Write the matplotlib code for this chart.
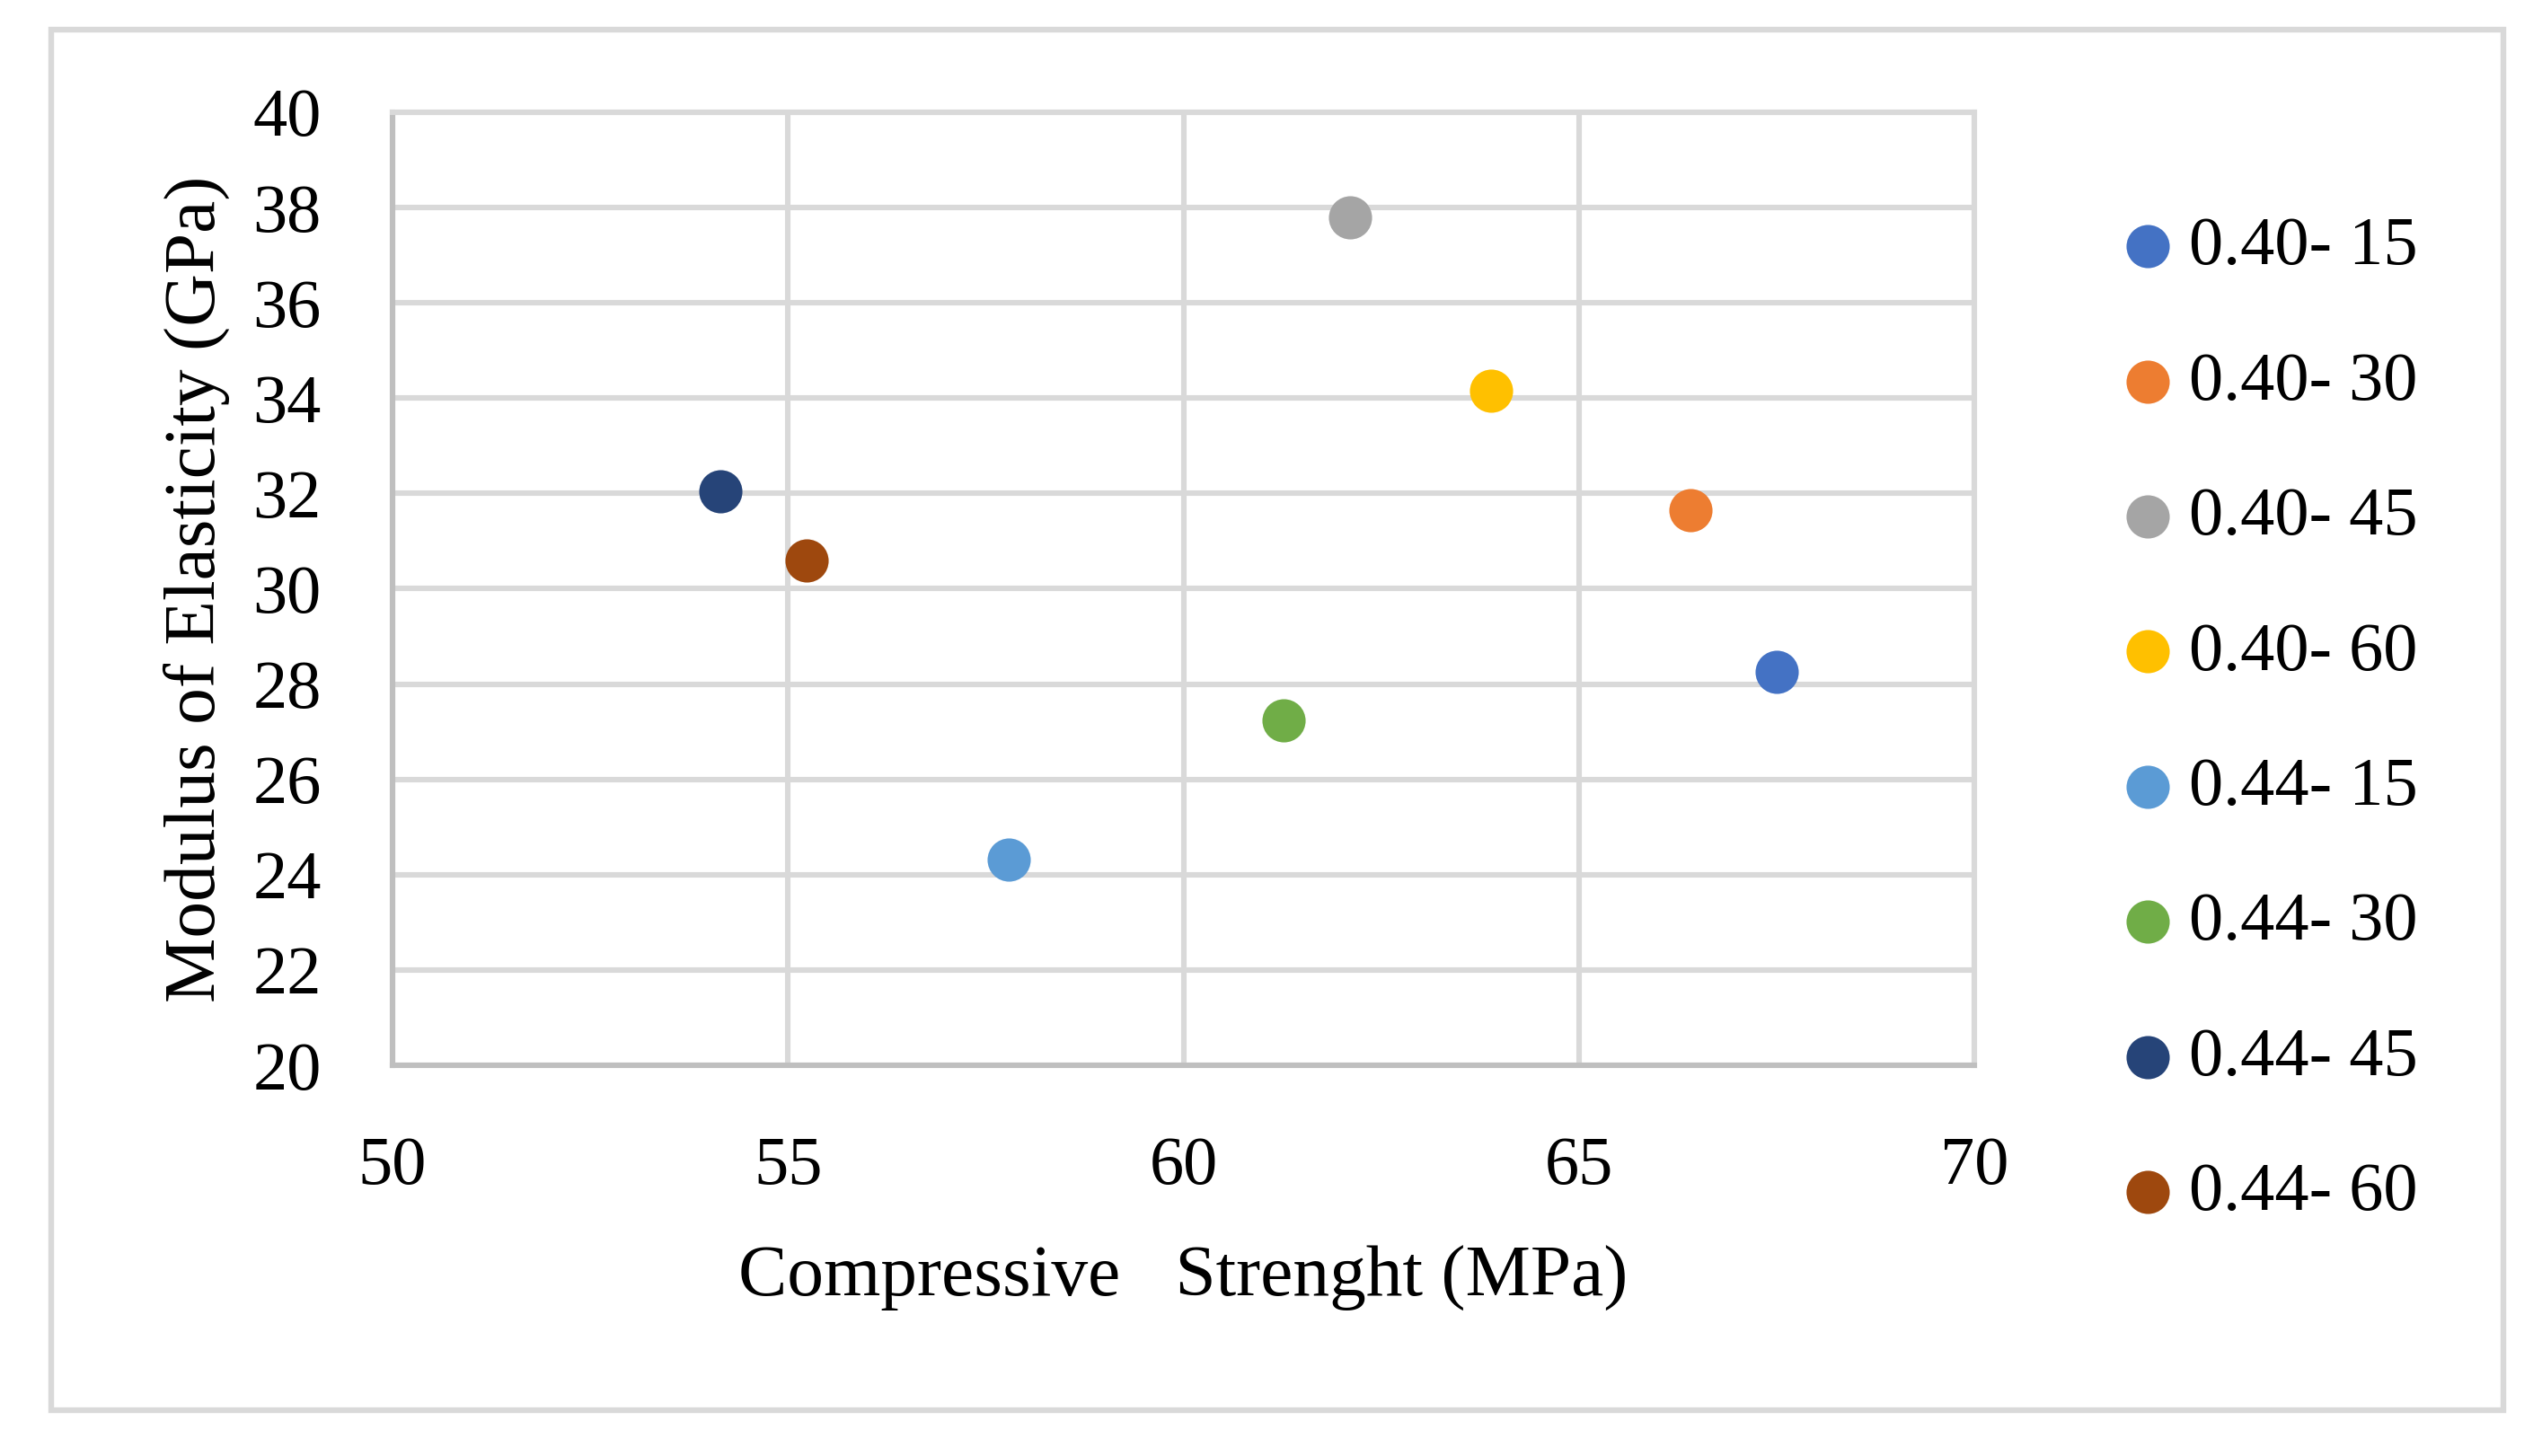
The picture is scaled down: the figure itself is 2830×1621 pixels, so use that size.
import matplotlib
matplotlib.use("Agg")
import matplotlib.pyplot as plt
from matplotlib.patches import Rectangle

labels = ["0.40- 15", "0.40- 30", "0.40- 45", "0.40- 60",
          "0.44- 15", "0.44- 30", "0.44- 45", "0.44- 60"]
strength = [67.5, 66.41, 62.11, 63.89, 57.79, 61.27, 54.14, 55.23]
modulus = [28.25, 31.65, 37.79, 34.16, 24.31, 27.23, 32.05, 30.59]
colors = ["#4472C4", "#ED7D31", "#A5A5A5", "#FFC000",
          "#5B9BD5", "#70AD47", "#264478", "#9E480E"]

plt.rcParams['font.family'] = ['Liberation Serif', 'DejaVu Serif']
fs = 27.5

W, H = 2830, 1621
fig = plt.figure(figsize=(W / 200, H / 200), dpi=200)

# outer chart frame
fig.patches.append(Rectangle((57 / W, 1 - 1570 / H), (2787 - 57) / W, (1570 - 33) / H,
                             transform=fig.transFigure, fill=False,
                             edgecolor="#d9d9d9", linewidth=2.3))

ax = fig.add_axes([437 / W, 1 - 1186 / H, (2198 - 437) / W, (1186 - 125) / H])

for x, y, c, lab in zip(strength, modulus, colors, labels):
    ax.scatter(x, y, s=300, color=c, label=lab, zorder=3, linewidths=0)

ax.set_xlim(50, 70)
ax.set_ylim(20, 40)
ax.set_xticks(range(50, 71, 5))
ax.set_yticks(range(20, 41, 2))
ax.grid(True, color="#d9d9d9", linewidth=2.2)
ax.set_axisbelow(True)
for side in ["top", "right"]:
    ax.spines[side].set_color("#d9d9d9")
    ax.spines[side].set_linewidth(2.2)
for side in ["left", "bottom"]:
    ax.spines[side].set_color("#bfbfbf")
    ax.spines[side].set_linewidth(2.2)
ax.tick_params(length=0, labelsize=fs, pad=28.5)

ax.set_xlabel("Compressive   Strenght (MPa)", fontsize=29.3, labelpad=19)
ax.set_ylabel("Modulus of Elasticity (GPa)", fontsize=29.3, labelpad=9)

fig.legend(loc="center left", bbox_to_anchor=(2368 / W, 1 - 802 / H),
           frameon=False, fontsize=fs, handlelength=0.6, handletextpad=0.3,
           labelspacing=1.06, borderpad=0, borderaxespad=0, markerscale=1.0)

fig.savefig("out.png", dpi=200)
